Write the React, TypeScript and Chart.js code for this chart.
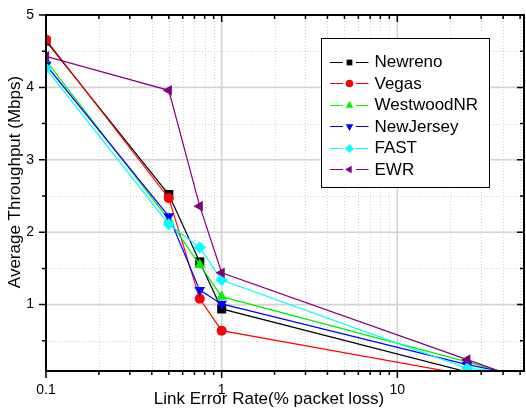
import React, { useEffect, useRef } from "react";
import { Chart, registerables } from "chart.js";

Chart.register(...registerables);

// ---- data ----
const LOSS_RATES = [0.1, 0.5, 0.75, 1, 25, 38];
const NEWRENO = [4.64, 2.52, 1.59, 0.94, 0.07, 0.083];
const VEGAS = [4.66, 2.47, 1.08, 0.64, 0.03, 0.083];
const WESTWOODNR = [4.37, 2.17, 1.55, 1.11, 0.21, 0.083];
const NEWJERSEY = [4.31, 2.22, 1.2, 1.01, 0.17, 0.083];
const FAST = [4.26, 2.11, 1.79, 1.34, 0.12, 0.083];
const EWR = [4.43, 3.96, 2.36, 1.44, 0.24, 0.083];

const SERIES_NAMES = ["Newreno", "Vegas", "WestwoodNR", "NewJersey", "FAST", "EWR"];
const SERIES_VALUES = [NEWRENO, VEGAS, WESTWOODNR, NEWJERSEY, FAST, EWR];
const SERIES_COLORS = ["#000000", "#ff0000", "#00f000", "#0000ff", "#00ffff", "#800080"];
const SERIES_MARKERS = ["square", "circle", "triUp", "triDown", "diamond", "triLeft"];

const X_TICKS = [0.1, 1, 10];
const X_MINOR = [0.2, 0.3, 0.4, 0.5, 0.6, 0.7, 0.8, 0.9, 2, 3, 4, 5, 6, 7, 8, 9, 20, 30, 40, 50];
const Y_TICKS = [1, 2, 3, 4, 5];
const Y_MINOR = [0.5, 1.5, 2.5, 3.5, 4.5];

const X_TITLE = "Link Error Rate(% packet loss)";
const Y_TITLE = "Average Throughput (Mbps)";

const FONT = "'Liberation Sans', Arial, sans-serif";

function markerStyle(kind: string): { style: string; rotation: number; radius: number } {
  switch (kind) {
    case "square":
      return { style: "rect", rotation: 0, radius: 6.4 };
    case "circle":
      return { style: "circle", rotation: 0, radius: 5 };
    case "triUp":
      return { style: "triangle", rotation: 0, radius: 6.2 };
    case "triDown":
      return { style: "triangle", rotation: 180, radius: 6.2 };
    case "diamond":
      return { style: "rectRot", rotation: 0, radius: 6 };
    default:
      return { style: "triangle", rotation: -90, radius: 6.2 };
  }
}

function drawMarker(ctx: CanvasRenderingContext2D, kind: string, x: number, y: number, r: number, color: string) {
  ctx.save();
  ctx.fillStyle = color;
  ctx.beginPath();
  if (kind === "square") {
    ctx.rect(x - r * 0.72, y - r * 0.72, r * 1.44, r * 1.44);
  } else if (kind === "circle") {
    ctx.arc(x, y, r, 0, Math.PI * 2);
  } else if (kind === "diamond") {
    ctx.moveTo(x, y - r);
    ctx.lineTo(x + r, y);
    ctx.lineTo(x, y + r);
    ctx.lineTo(x - r, y);
  } else {
    const rot = kind === "triUp" ? 0 : kind === "triDown" ? Math.PI : -Math.PI / 2;
    for (let i = 0; i < 3; i++) {
      const a = rot + (i * 2 * Math.PI) / 3;
      const px = x + Math.sin(a) * r;
      const py = y - Math.cos(a) * r;
      if (i === 0) ctx.moveTo(px, py);
      else ctx.lineTo(px, py);
    }
  }
  ctx.closePath();
  ctx.fill();
  ctx.restore();
}

const framePlugin = {
  id: "frame",
  beforeDatasetsDraw(chart: any) {
    const { ctx, chartArea: a, scales } = chart;
    const xs = scales.x;
    const ys = scales.y;
    ctx.save();
    // minor dotted grid
    ctx.strokeStyle = "#cfcfcf";
    ctx.lineWidth = 1;
    ctx.setLineDash([1, 2]);
    ctx.beginPath();
    for (const v of X_MINOR) {
      const px = Math.round(xs.getPixelForValue(v)) + 0.5;
      if (px <= a.left + 1 || px >= a.right - 1) continue;
      ctx.moveTo(px, a.top);
      ctx.lineTo(px, a.bottom);
    }
    for (const v of Y_MINOR) {
      const py = Math.round(ys.getPixelForValue(v)) + 0.5;
      ctx.moveTo(a.left, py);
      ctx.lineTo(a.right, py);
    }
    ctx.stroke();
    // major solid grid
    ctx.setLineDash([]);
    ctx.strokeStyle = "#d2d2d2";
    ctx.lineWidth = 1.6;
    ctx.beginPath();
    for (const v of X_TICKS) {
      const px = xs.getPixelForValue(v);
      if (px <= a.left + 1 || px >= a.right - 1) continue;
      ctx.moveTo(px, a.top);
      ctx.lineTo(px, a.bottom);
    }
    for (const v of Y_TICKS) {
      const py = ys.getPixelForValue(v);
      if (py <= a.top + 1) continue;
      ctx.moveTo(a.left, py);
      ctx.lineTo(a.right, py);
    }
    ctx.stroke();
    ctx.restore();
  },
  afterDatasetsDraw(chart: any) {
    const { ctx, chartArea: a, scales } = chart;
    const xs = scales.x;
    const ys = scales.y;
    ctx.save();
    ctx.strokeStyle = "#000";
    ctx.lineWidth = 2;
    ctx.strokeRect(a.left, a.top, a.right - a.left, a.bottom - a.top);
    ctx.lineWidth = 1.5;
    ctx.beginPath();
    // x ticks: bottom outward, top inward
    for (const v of X_TICKS) {
      const px = xs.getPixelForValue(v);
      ctx.moveTo(px, a.bottom);
      ctx.lineTo(px, a.bottom + 7);
      ctx.moveTo(px, a.top);
      ctx.lineTo(px, a.top + 7);
    }
    for (const v of X_MINOR) {
      const px = xs.getPixelForValue(v);
      if (px > a.right) continue;
      ctx.moveTo(px, a.bottom);
      ctx.lineTo(px, a.bottom + 4);
      ctx.moveTo(px, a.top);
      ctx.lineTo(px, a.top + 4);
    }
    // y ticks: left outward, right inward
    for (const v of Y_TICKS) {
      const py = ys.getPixelForValue(v);
      ctx.moveTo(a.left, py);
      ctx.lineTo(a.left - 7, py);
      ctx.moveTo(a.right, py);
      ctx.lineTo(a.right - 7, py);
    }
    for (const v of Y_MINOR) {
      const py = ys.getPixelForValue(v);
      ctx.moveTo(a.left, py);
      ctx.lineTo(a.left - 4, py);
      ctx.moveTo(a.right, py);
      ctx.lineTo(a.right - 4, py);
    }
    ctx.stroke();
    ctx.restore();
  },
  afterDraw(chart: any) {
    const { ctx, chartArea: a } = chart;
    ctx.save();
    // axis titles
    ctx.fillStyle = "#000";
    ctx.font = `17px ${FONT}`;
    ctx.textAlign = "center";
    ctx.textBaseline = "alphabetic";
    ctx.fillText(X_TITLE, 269, 404);
    ctx.save();
    ctx.translate(20, 182);
    ctx.rotate(-Math.PI / 2);
    ctx.fillText(Y_TITLE, 0, 0);
    ctx.restore();

    // legend
    const bx = a.left + 275.5;
    const by = a.top + 23.5;
    const bw = 168;
    const bh = 149;
    ctx.fillStyle = "#fff";
    ctx.fillRect(bx, by, bw, bh);
    ctx.strokeStyle = "#000";
    ctx.lineWidth = 1;
    ctx.strokeRect(bx, by, bw, bh);
    ctx.font = `17px ${FONT}`;
    ctx.textAlign = "left";
    ctx.textBaseline = "middle";
    SERIES_NAMES.forEach((name, i) => {
      const cy = by + 23.2 + i * 21.45;
      const color = SERIES_COLORS[i];
      ctx.strokeStyle = color;
      ctx.lineWidth = 1;
      ctx.beginPath();
      ctx.moveTo(bx + 8.5, Math.round(cy) + 0.5);
      ctx.lineTo(bx + 21.5, Math.round(cy) + 0.5);
      ctx.moveTo(bx + 34.5, Math.round(cy) + 0.5);
      ctx.lineTo(bx + 47, Math.round(cy) + 0.5);
      ctx.stroke();
      const kind = SERIES_MARKERS[i];
      const r = kind === "square" ? 4 : kind === "circle" ? 3.8 : 4.4;
      drawMarker(ctx, kind, bx + 28, Math.round(cy) + 0.5, r, color);
      ctx.fillStyle = "#000";
      ctx.fillText(name, bx + 53, cy + 1);
    });
    ctx.restore();
  },
};

export default function App() {
  const canvasRef = useRef<HTMLCanvasElement | null>(null);

  useEffect(() => {
    if (!canvasRef.current) return;
    Chart.defaults.font.family = FONT;
    const last = LOSS_RATES.length - 1;
    const datasets = SERIES_NAMES.map((name, i) => {
      const m = markerStyle(SERIES_MARKERS[i]);
      return {
        label: name,
        data: LOSS_RATES.map((x, j) => ({ x, y: SERIES_VALUES[i][j] })),
        borderColor: SERIES_COLORS[i],
        backgroundColor: SERIES_COLORS[i],
        borderWidth: 1.2,
        tension: 0,
        pointStyle: m.style,
        rotation: m.rotation,
        pointRadius: (c: any) => (c.dataIndex === last ? 0 : m.radius),
        pointBorderWidth: 0,
        pointBackgroundColor: SERIES_COLORS[i],
        order: SERIES_NAMES.length - 1 - i,
      };
    });

    const chart = new Chart(canvasRef.current, {
      type: "line",
      data: { datasets },
      options: {
        animation: false,
        responsive: false,
        maintainAspectRatio: false,
        devicePixelRatio: 1,
        layout: { autoPadding: false, padding: { top: 15, right: 2, left: 0, bottom: 0 } },
        plugins: { legend: { display: false }, tooltip: { enabled: false } },
        scales: {
          x: {
            type: "logarithmic",
            min: 0.1,
            max: 52.6,
            border: { display: false },
            grid: { display: true, color: "transparent", drawTicks: true, tickLength: 8 },
            afterBuildTicks: (s: any) => {
              s.ticks = X_TICKS.map((v) => ({ value: v }));
            },
            afterFit: (s: any) => {
              s.height = 45;
              s.paddingLeft = 0;
              s.paddingRight = 0;
            },
            ticks: {
              color: "#000",
              font: { size: 14, family: FONT },
              padding: 3,
              maxRotation: 0,
              autoSkip: false,
              callback: (v: any) => String(Number(v)),
            },
          },
          y: {
            type: "linear",
            min: 0.083,
            max: 5,
            border: { display: false },
            grid: { display: true, color: "transparent", drawTicks: true, tickLength: 8 },
            afterBuildTicks: (s: any) => {
              s.ticks = Y_TICKS.map((v) => ({ value: v }));
            },
            afterFit: (s: any) => {
              s.width = 46;
              s.paddingTop = 0;
              s.paddingBottom = 0;
            },
            ticks: {
              color: "#000",
              font: { size: 14, family: FONT },
              padding: 4,
              callback: (v: any) => String(Number(v)),
            },
          },
        },
      },
      plugins: [framePlugin],
    } as any);
    return () => chart.destroy();
  }, []);

  return (
    <div style={{ position: "absolute", left: 0, top: 0, width: 526, height: 416, background: "#fff" }}>
      <canvas ref={canvasRef} width={526} height={416} style={{ display: "block", width: 526, height: 416 }} />
    </div>
  );
}
